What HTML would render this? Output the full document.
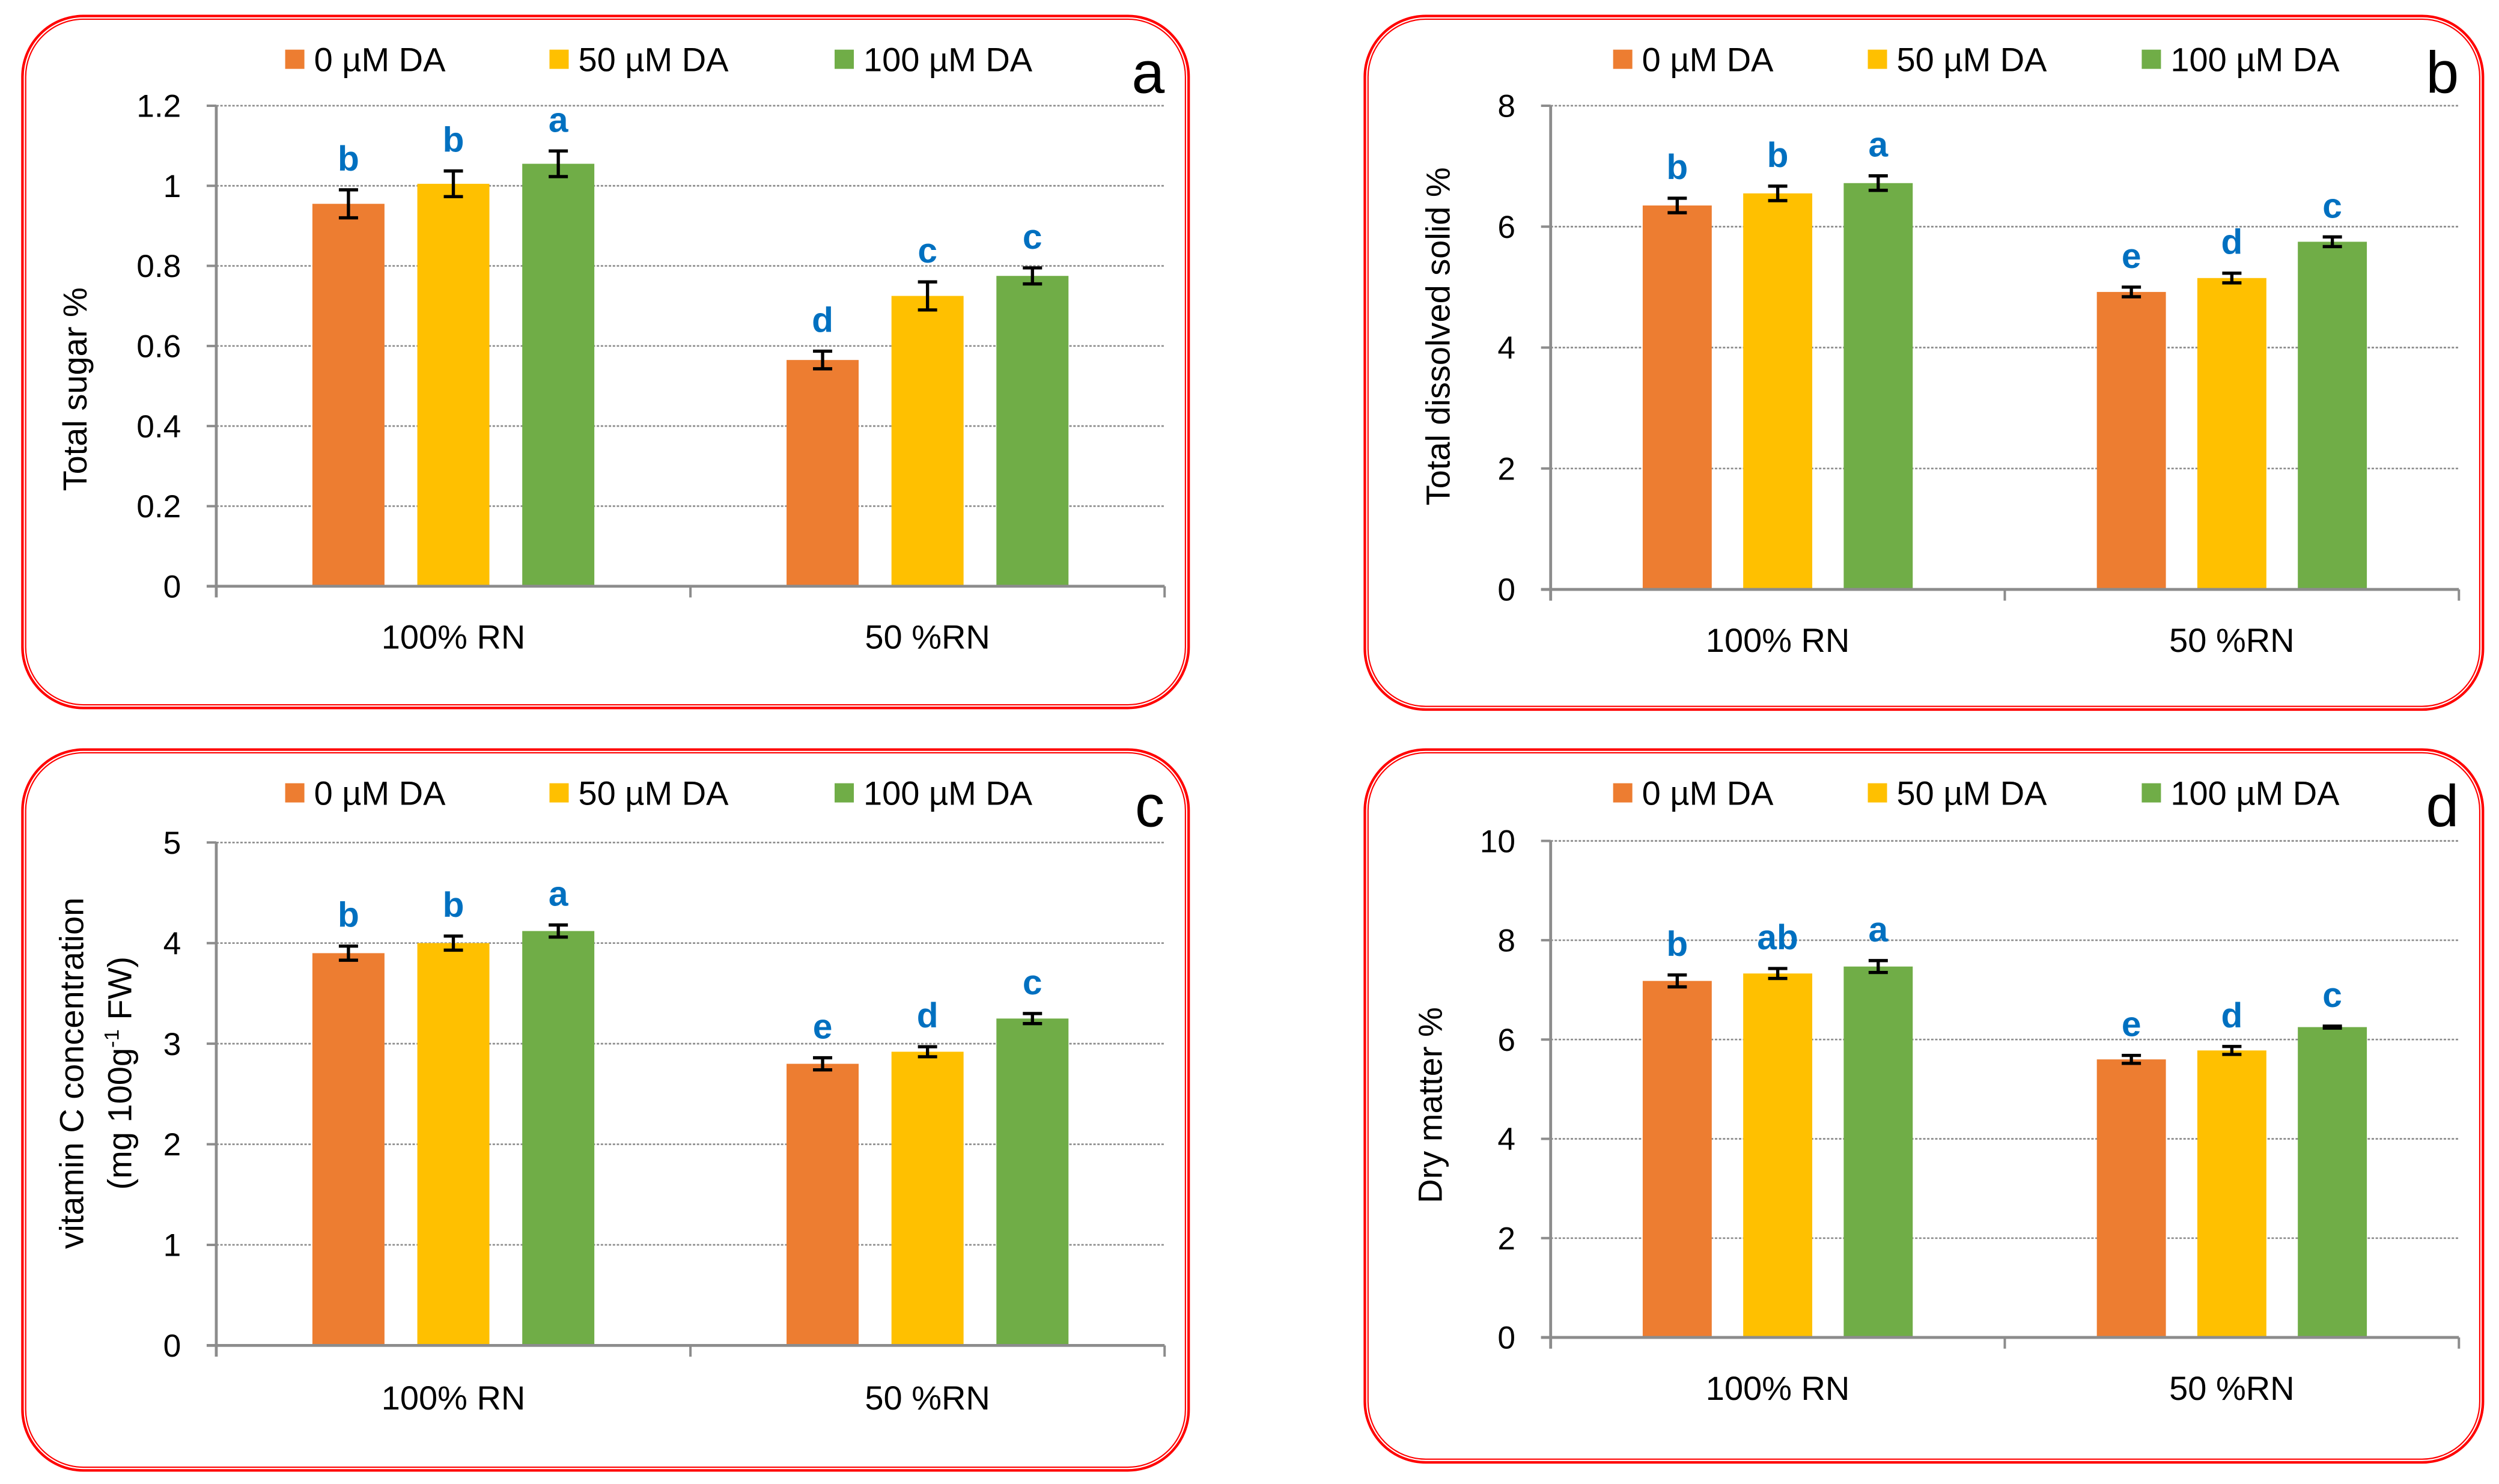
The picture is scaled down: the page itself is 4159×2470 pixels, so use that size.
<!DOCTYPE html>
<html><head><meta charset="utf-8">
<style>
html,body{margin:0;padding:0;background:#fff;}
svg{display:block;font-family:"Liberation Sans",sans-serif;}
</style></head>
<body>
<svg id="fig" width="4159" height="2470" viewBox="0 0 1560 926.5" xmlns="http://www.w3.org/2000/svg"></svg>
<script>
const categories = ["100% RN", "50 %RN"];
const seriesNames = ["0 µM DA", "50 µM DA", "100 µM DA"];
const colors = ["#ED7D31", "#FFC000", "#70AD47"];

const sugarValues = [[0.955, 0.565], [1.005, 0.725], [1.055, 0.775]];
const sugarErrors = [[0.035, 0.022], [0.032, 0.035], [0.032, 0.02]];
const sugarLetters = [["b", "d"], ["b", "c"], ["a", "c"]];
const sugarTicks = ["0", "0.2", "0.4", "0.6", "0.8", "1", "1.2"];

const tssValues = [[6.35, 4.92], [6.55, 5.15], [6.72, 5.75]];
const tssErrors = [[0.12, 0.08], [0.12, 0.08], [0.12, 0.08]];
const tssLetters = [["b", "e"], ["b", "d"], ["a", "c"]];
const tssTicks = ["0", "2", "4", "6", "8"];

const vitcValues = [[3.9, 2.8], [4.0, 2.92], [4.12, 3.25]];
const vitcErrors = [[0.07, 0.06], [0.07, 0.05], [0.06, 0.05]];
const vitcLetters = [["b", "e"], ["b", "d"], ["a", "c"]];
const vitcTicks = ["0", "1", "2", "3", "4", "5"];

const dmValues = [[7.18, 5.6], [7.33, 5.78], [7.47, 6.25]];
const dmErrors = [[0.12, 0.08], [0.1, 0.08], [0.12, 0.02]];
const dmLetters = [["b", "e"], ["ab", "d"], ["a", "c"]];
const dmTicks = ["0", "2", "4", "6", "8", "10"];

const NS = "http://www.w3.org/2000/svg";
const svg = document.getElementById("fig");
function mk(tag, attrs, parent, text) {
  const e = document.createElementNS(NS, tag);
  for (const k in attrs) e.setAttribute(k, attrs[k]);
  if (text !== undefined) e.textContent = text;
  (parent || svg).appendChild(e);
  return e;
}

function panel(cfg) {
  const g = mk("g", {});
  
  
  const b = mk("rect", {x: cfg.bx, y: cfg.by, width: cfg.bw, height: cfg.bh, rx: 38, ry: 38, fill: "none", stroke: "#ff0000", "stroke-width": 1.6}, g);
  
  
  mk("rect", {x: cfg.bx + 2, y: cfg.by + 2, width: cfg.bw - 4, height: cfg.bh - 4, rx: 36, ry: 36, fill: "none", stroke: "#ff0000", "stroke-width": 0.8}, g);

  const x0 = cfg.ax, x1 = cfg.axR, y0 = cfg.zero, yT = cfg.top;
  const maxV = parseFloat(cfg.ticks[cfg.ticks.length - 1]);
  const yS = v => y0 - (v / maxV) * (y0 - yT);
  const catW = (x1 - x0) / categories.length;
  const barW = 45 * catW / 296, step = 65.5 * catW / 296;
  const xS = (c, s) => x0 + catW * (c + 0.5) + (s - 1) * step;

  cfg.ticks.forEach(t => {
    const v = parseFloat(t), y = yS(v);
    if (v > 0) {
      const gl = mk("line", {x1: x0, x2: x1, y1: y, y2: y, stroke: "#8c8c8c", "stroke-width": 1, "stroke-dasharray": "1.5,1"}, g);
      
      
    }
    mk("line", {x1: x0 - 6, x2: x0, y1: y, y2: y, stroke: "#8c8c8c", "stroke-width": 1.5}, g);
    const tl = mk("text", {x: x0 - 22, y: y + 7, "text-anchor": "end", "font-size": 20, fill: "#000"}, g, t);
    
    
  });

  for (let s = 0; s < 3; s++) {
    for (let c = 0; c < categories.length; c++) {
      const v = cfg.values[s][c], e = cfg.errors[s][c], cx = xS(c, s);
      const r = mk("rect", {x: cx - barW / 2, y: yS(v), width: barW, height: y0 - yS(v), fill: colors[s]}, g);
      
      
      const eg = mk("g", {stroke: "#000", "stroke-width": 2}, g);
      
      
      mk("line", {x1: cx, x2: cx, y1: yS(v + e), y2: yS(v - e)}, eg);
      mk("line", {x1: cx - 6, x2: cx + 6, y1: yS(v + e), y2: yS(v + e)}, eg);
      mk("line", {x1: cx - 6, x2: cx + 6, y1: yS(v - e), y2: yS(v - e)}, eg);
      const lt = mk("text", {x: cx, y: yS(v + e) - 12, "text-anchor": "middle", "font-size": 22, "font-weight": "bold", fill: "#0070C0"}, g, cfg.letters[s][c]);
      
      
    }
  }

  const ya = mk("line", {x1: x0, x2: x0, y1: yT, y2: y0 + 7, stroke: "#8c8c8c", "stroke-width": 1.8}, g);
  
  
  const xa = mk("line", {x1: x0 - 6, x2: x1, y1: y0, y2: y0, stroke: "#8c8c8c", "stroke-width": 1.8}, g);
  
  
  for (let c = 1; c <= categories.length; c++) {
    mk("line", {x1: x0 + catW * c, x2: x0 + catW * c, y1: y0, y2: y0 + 7, stroke: "#8c8c8c", "stroke-width": 1.5}, g);
  }
  categories.forEach((cat, c) => {
    const ct = mk("text", {x: x0 + catW * (c + 0.5), y: cfg.catY, "text-anchor": "middle", "font-size": 21, fill: "#000"}, g, cat);
    
    
  });

  const lg = mk("g", {}, g);
  
  
  seriesNames.forEach((n, s) => {
    const lx = cfg.legX[s];
    const le = mk("g", {}, lg);
    
    
    mk("rect", {x: lx, y: cfg.legY - 6, width: 12, height: 12, fill: colors[s]}, le);
    mk("text", {x: lx + 18, y: cfg.legY + 7.5, "font-size": 21, fill: "#000"}, le, n);
  });

  const pl = mk("text", {x: cfg.bx + cfg.bw - 15, y: cfg.legY + 21, "text-anchor": "end", "font-size": 37, fill: "#000"}, g, cfg.panelLetter);
  
  

  const yt = mk("text", {transform: `translate(${cfg.ytX},${cfg.ytY}) rotate(-90)`, "text-anchor": "middle", "font-size": 21, fill: "#000"}, g);
  
  
  cfg.ytLines.forEach((l, i) => {
    const ts = mk("tspan", {x: 0, dy: i === 0 ? 0 : 30}, yt);
    if (Array.isArray(l)) {
      mk("tspan", {}, ts, l[0]);
      mk("tspan", {dy: -8, "font-size": 13}, ts, l[1]);
      mk("tspan", {dy: 8}, ts, l[2]);
    } else ts.textContent = l;
  });
}

panel({name: "panel-a-total-sugar", bx: 14, by: 10, bw: 728, bh: 432, ax: 135, axR: 727, zero: 366, top: 66,
  ticks: sugarTicks, values: sugarValues, errors: sugarErrors, letters: sugarLetters,
  catY: 405, legY: 37, legX: [178, 343, 521], panelLetter: "a", ytX: 54, ytY: 243, ytLines: ["Total sugar %"]});
panel({name: "panel-b-total-dissolved-solid", bx: 852, by: 10, bw: 698, bh: 433, ax: 968, axR: 1535, zero: 368, top: 66,
  ticks: tssTicks, values: tssValues, errors: tssErrors, letters: tssLetters,
  catY: 407, legY: 37, legX: [1007, 1166, 1337], panelLetter: "b", ytX: 905, ytY: 210, ytLines: ["Total dissolved solid %"]});
panel({name: "panel-c-vitamin-c", bx: 14, by: 468, bw: 728, bh: 450, ax: 135, axR: 727, zero: 840, top: 526,
  ticks: vitcTicks, values: vitcValues, errors: vitcErrors, letters: vitcLetters,
  catY: 880, legY: 495, legX: [178, 343, 521], panelLetter: "c", ytX: 52, ytY: 670, ytLines: ["vitamin C concentration", ["(mg 100g", "-1", " FW)"]]});
panel({name: "panel-d-dry-matter", bx: 852, by: 468, bw: 698, bh: 445, ax: 968, axR: 1535, zero: 835, top: 525,
  ticks: dmTicks, values: dmValues, errors: dmErrors, letters: dmLetters,
  catY: 874, legY: 495, legX: [1007, 1166, 1337], panelLetter: "d", ytX: 900, ytY: 690, ytLines: ["Dry matter %"]});
</script>
</body></html>
